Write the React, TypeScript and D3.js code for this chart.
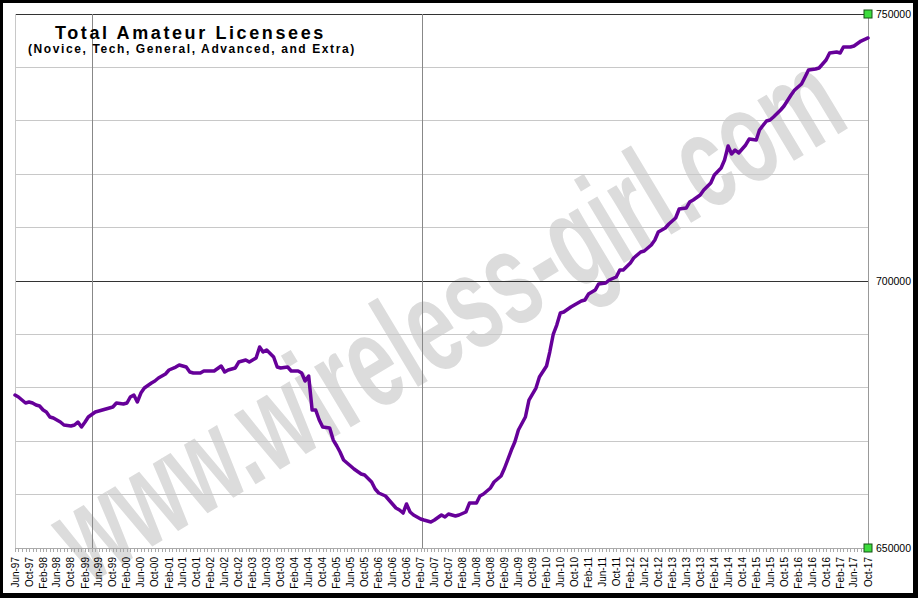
import React from 'react';
import * as d3 from 'd3';

// monthly licensee counts (not every month)
const months = [
  '1997-06', '1997-07', '1997-09', '1997-10', '1997-11', '1997-12', '1998-01', '1998-02', '1998-03', '1998-04',
  '1998-05', '1998-07', '1998-08', '1998-10', '1998-11', '1998-12', '1999-01', '1999-02', '1999-03', '1999-05',
  '1999-06', '1999-08', '1999-09', '1999-10', '1999-11', '2000-01', '2000-02', '2000-03', '2000-04', '2000-05',
  '2000-06', '2000-07', '2000-09', '2000-10', '2000-11', '2001-01', '2001-02', '2001-04', '2001-05', '2001-07',
  '2001-08', '2001-09', '2001-11', '2001-12', '2002-02', '2002-03', '2002-05', '2002-06', '2002-07', '2002-09',
  '2002-10', '2002-12', '2003-01', '2003-03', '2003-04', '2003-05', '2003-06', '2003-08', '2003-09', '2003-10',
  '2003-12', '2004-01', '2004-03', '2004-04', '2004-05', '2004-06', '2004-07', '2004-08', '2004-09', '2004-10',
  '2004-12', '2005-01', '2005-02', '2005-03', '2005-04', '2005-06', '2005-07', '2005-09', '2005-10', '2005-12',
  '2006-01', '2006-02', '2006-04', '2006-05', '2006-07', '2006-08', '2006-09', '2006-10', '2006-11', '2006-12',
  '2007-02', '2007-03', '2007-05', '2007-06', '2007-08', '2007-09', '2007-10', '2007-12', '2008-01', '2008-03',
  '2008-04', '2008-06', '2008-07', '2008-08', '2008-10', '2008-11', '2009-01', '2009-02', '2009-04', '2009-05',
  '2009-06', '2009-08', '2009-09', '2009-11', '2009-12', '2010-02', '2010-03', '2010-04', '2010-05', '2010-06',
  '2010-07', '2010-09', '2010-10', '2010-12', '2011-01', '2011-02', '2011-04', '2011-05', '2011-07', '2011-08',
  '2011-10', '2011-11', '2011-12', '2012-02', '2012-03', '2012-05', '2012-06', '2012-08', '2012-09', '2012-10',
  '2012-12', '2013-01', '2013-03', '2013-04', '2013-06', '2013-07', '2013-08', '2013-10', '2013-11', '2014-01',
  '2014-02', '2014-04', '2014-05', '2014-06', '2014-07', '2014-08', '2014-09', '2014-11', '2014-12', '2015-02',
  '2015-03', '2015-05', '2015-06', '2015-07', '2015-09', '2015-10', '2015-12', '2016-01', '2016-03', '2016-04',
  '2016-05', '2016-07', '2016-08', '2016-10', '2016-11', '2017-01', '2017-02', '2017-03', '2017-05', '2017-06',
  '2017-08', '2017-10'
];

const licensees = [
  678650, 678280, 677150, 677340, 677150, 676780, 676590, 675840, 675470, 674530,
  674340, 673590, 673030, 672840, 673030, 673590, 672660, 673590, 674530, 675470,
  675650, 676030, 676220, 676400, 677150, 676960, 677150, 678280, 678650, 677340,
  679020, 679960, 680900, 681270, 681830, 682580, 683330, 683890, 684270, 683890,
  682960, 682770, 682770, 683140, 683140, 683140, 684080, 682960, 683330, 683710,
  684830, 685200, 684830, 685580, 687640, 686700, 687080, 685770, 683890, 683710,
  683890, 683140, 683140, 682770, 681270, 682210, 675840, 675840, 673970, 672660,
  672470, 670220, 669100, 667980, 666480, 665350, 664790, 663860, 663670, 662360,
  661050, 660300, 659740, 658990, 657490, 657110, 656550, 658240, 656740, 656180,
  655430, 655240, 654870, 655240, 656180, 655800, 656360, 655990, 656180, 656740,
  658420, 658420, 659740, 660110, 661240, 662360, 663480, 664980, 668350, 669850,
  672100, 674530, 677710, 679960, 682020, 684080, 686700, 690070, 691760, 694010,
  694190, 695130, 695500, 696250, 696440, 697560, 698310, 699440, 699620, 700190,
  700750, 702060, 702060, 703370, 704310, 705430, 705620, 706740, 707680, 709170,
  709920, 710670, 711800, 713480, 713670, 714790, 715170, 716100, 717040, 718350,
  719850, 721160, 722660, 725280, 723780, 724530, 723970, 725470, 726590, 726400,
  728280, 729960, 730150, 730710, 732020, 732770, 734830, 735770, 736890, 738200,
  739510, 739700, 739890, 741390, 742700, 742880, 742700, 743820, 743820, 744010,
  744940, 745510
];

const yTicks = [650000, 660000, 670000, 680000, 690000, 700000, 710000, 720000, 730000, 740000, 750000];
const yLabels = [650000, 700000, 750000];
const darkLines = [700000, 750000];
const markerDates = ['1999-04-10', '2007-02-15'];
const firstMonth = '1997-06';
const lastMonth = '2017-10';

const W = 918;
const H = 598;
const plot = { left: 15, right: 868, top: 14, bottom: 548 };

const parseMonth = d3.timeParse('%Y-%m');
const parseDay = d3.timeParse('%Y-%m-%d');
const fmt = d3.timeFormat('%b-%y');

export default function App() {
  const start = parseMonth(firstMonth) as Date;
  const end = parseMonth(lastMonth) as Date;

  const x = d3.scaleTime().domain([start, end]).range([plot.left, plot.right]);
  const y = d3.scaleLinear().domain([650000, 750000]).range([plot.bottom, plot.top]);

  const data = months.map((m, i) => ({ date: parseMonth(m) as Date, value: licensees[i] }));
  const line = d3.line<{ date: Date; value: number }>()
    .x(d => x(d.date))
    .y(d => y(d.value))
    .curve(d3.curveLinear);

  const allMonths = d3.timeMonth.range(start, d3.timeMonth.offset(end, 1));
  const labelMonths = allMonths.filter((_, i) => i % 4 === 0);

  return (
    <svg width={W} height={H} style={{ position: 'absolute', left: 0, top: 0 }}>
      <defs>
        <clipPath id="frame">
          <rect x={3} y={3} width={910} height={590} />
        </clipPath>
      </defs>
      <rect x={0} y={0} width={W} height={H} fill="#000" />
      <rect x={3} y={3} width={910} height={590} fill="#fff" />

      {/* watermark */}
      <g clipPath="url(#frame)">
        <text
          transform="translate(446,316) rotate(-31) scale(0.62,1)"
          textAnchor="middle"
          dominantBaseline="central"
          fontFamily="Liberation Sans, Arial, sans-serif"
          fontWeight="bold"
          fontSize={134}
          fill="#dcdcdc"
        >
          www.wireless-girl.com
        </text>
      </g>

      {/* horizontal grid */}
      {yTicks.map(t => (
        <line
          key={t}
          x1={plot.left}
          x2={plot.right}
          y1={y(t)}
          y2={y(t)}
          stroke={darkLines.includes(t) ? '#333' : '#c8c8c8'}
          strokeWidth={1}
          shapeRendering="crispEdges"
        />
      ))}
      <line x1={plot.left} x2={plot.left} y1={plot.top} y2={plot.bottom} stroke="#c8c8c8" shapeRendering="crispEdges" />
      <line x1={plot.right} x2={plot.right} y1={plot.top} y2={plot.bottom} stroke="#999" shapeRendering="crispEdges" />
      {markerDates.map(d => (
        <line
          key={d}
          x1={x(parseDay(d) as Date)}
          x2={x(parseDay(d) as Date)}
          y1={plot.top}
          y2={plot.bottom}
          stroke="#888"
          shapeRendering="crispEdges"
        />
      ))}

      {/* x axis */}
      <line x1={plot.left} x2={plot.right} y1={plot.bottom} y2={plot.bottom} stroke="#aaa" shapeRendering="crispEdges" />
      {allMonths.map((d, i) => (
        <line
          key={i}
          x1={Math.round(x(d)) + 0.5}
          x2={Math.round(x(d)) + 0.5}
          y1={plot.bottom}
          y2={plot.bottom + 4}
          stroke="#aaa"
        />
      ))}
      {labelMonths.map((d, i) => (
        <text
          key={i}
          transform={`translate(${x(d) + 3.5},557) rotate(-90)`}
          textAnchor="end"
          fontFamily="Liberation Sans, Arial, sans-serif"
          fontSize={10}
          fill="#000"
        >
          {fmt(d)}
        </text>
      ))}

      {/* right axis */}
      {yLabels.map(t => (
        <text
          key={t}
          x={876}
          y={y(t)}
          dominantBaseline="central"
          fontFamily="Liberation Sans, Arial, sans-serif"
          fontSize={10.5}
          fill="#000"
        >
          {t}
        </text>
      ))}

      {/* series */}
      <path d={line(data) || ''} fill="none" stroke="#660099" strokeWidth={3.5} strokeLinejoin="round" strokeLinecap="round" />

      {[650000, 750000].map(t => (
        <rect key={t} x={plot.right - 4} y={y(t) - 4} width={8} height={8} fill="#3ddc3d" stroke="#145214" strokeWidth={1} />
      ))}

      {/* titles */}
      <text x={55} y={39} fontFamily="Liberation Sans, Arial, sans-serif" fontWeight="bold" fontSize={18} letterSpacing={2.6} fill="#000">
        Total Amateur Licensees
      </text>
      <text x={28} y={53} fontFamily="Liberation Sans, Arial, sans-serif" fontWeight="bold" fontSize={12} letterSpacing={1.6} fill="#000">
        (Novice, Tech, General, Advanced, and Extra)
      </text>
    </svg>
  );
}
